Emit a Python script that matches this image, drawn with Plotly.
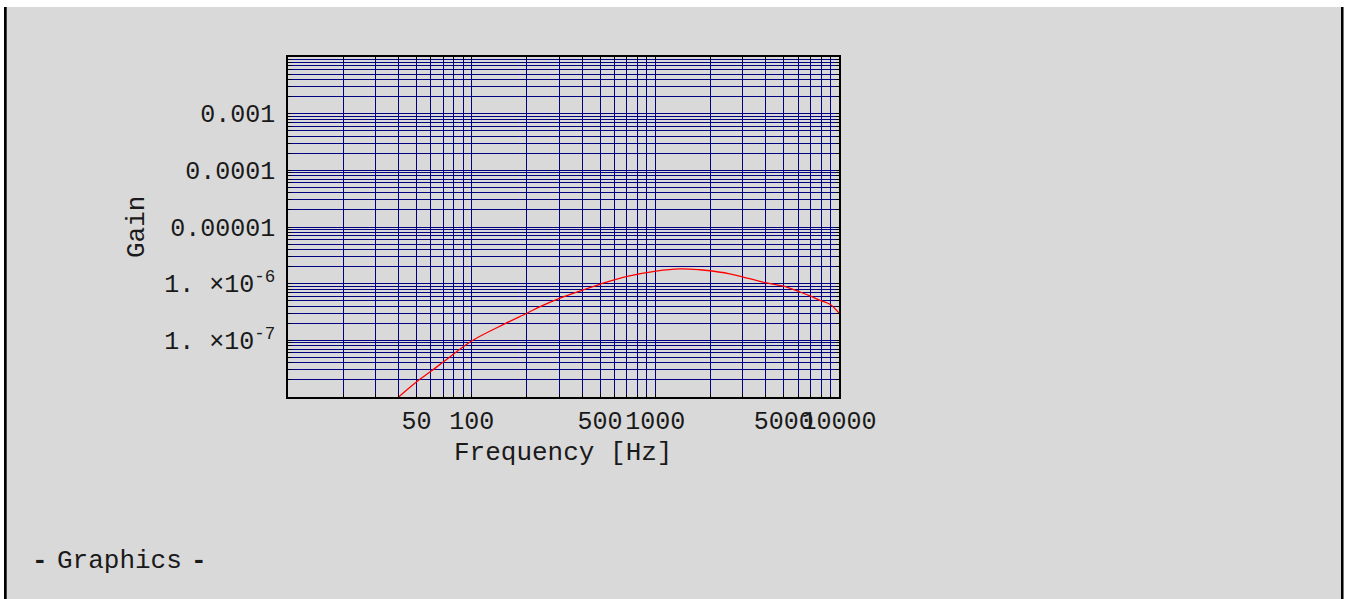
import plotly.graph_objects as go

# Frequency response samples (Hz -> gain)
freq_hz = [40, 50, 60, 76, 100, 152, 201, 236, 303, 402, 503, 703, 1009,
           1360, 1750, 1987, 2500, 3013, 4036, 5190, 6136, 6953, 7880, 8930, 10000]
gain = [1.0e-8, 1.84e-8, 2.84e-8, 5.08e-8, 9.75e-8, 1.97e-7, 3.04e-7, 3.94e-7,
        5.57e-7, 7.71e-7, 9.84e-7, 1.34e-6, 1.66e-6, 1.82e-6, 1.76e-6, 1.69e-6,
        1.51e-6, 1.31e-6, 1.03e-6, 8.73e-7, 7.13e-7, 6.07e-7, 5.08e-7, 4.33e-7, 3.03e-7]

# Labelled ticks
x_tick_vals = [50, 100, 500, 1000, 5000, 10000]
x_tick_text = ["50", "100", "500", "1000", "5000", "10000"]
y_tick_vals = [1e-3, 1e-4, 1e-5, 1e-6, 1e-7]
y_tick_text = ["0.001", "0.0001", "0.00001",
               "1. \u00d710<sup>-6</sup>", "1. \u00d710<sup>-7</sup>"]

x_title = "Frequency [Hz]"
y_title = "Gain"
caption_mark = "<b>-</b>"
caption = "Graphics"

# Page / frame geometry in pixels
W, H = 1349, 599
L, R, T, B = 288, 839, 57, 397

FONT = "Liberation Mono, Courier New, monospace"
TEXT = "#1a1a1a"
GRID = "#000080"
BG = "#d9d9d9"


def px(x):
    return (x - L) / (R - L)


def py(y):
    return (B - y) / (B - T)


def grid_values(lo_exp, hi_exp):
    vals = []
    for e in range(lo_exp, hi_exp):
        for k in range(1, 10):
            vals.append(k * 10.0 ** e)
    vals.append(10.0 ** hi_exp)
    return vals


def tick_arrays(lo_exp, hi_exp, labelled, labels):
    vals = grid_values(lo_exp, hi_exp)
    text = []
    for v in vals:
        lab = ""
        for lv, lt in zip(labelled, labels):
            if abs(v - lv) / lv < 1e-9:
                lab = lt
        text.append(lab)
    return vals, text


xv, xt = tick_arrays(1, 4, x_tick_vals, x_tick_text)
yv, yt = tick_arrays(-8, -2, y_tick_vals, y_tick_text)

fig = go.Figure()
fig.add_trace(go.Scatter(
    x=freq_hz, y=gain, mode="lines",
    line=dict(color="#ff0000", width=1.3, shape="spline", smoothing=1.0),
    hoverinfo="skip", showlegend=False,
))

axis_common = dict(
    showline=True, linecolor="black", linewidth=1.5, mirror="ticks",
    ticks="inside", ticklen=3, tickcolor="black", tickwidth=1,
    showgrid=True, gridcolor=GRID, gridwidth=1, zeroline=False,
    tickfont=dict(family=FONT, size=25, color=TEXT),
)

fig.update_xaxes(type="log", range=[1, 4], tickmode="array",
                 tickvals=xv, ticktext=xt, tickangle=0, **axis_common)
fig.update_yaxes(type="log", range=[-8, -2], tickmode="array",
                 tickvals=yv, ticktext=yt, ticklabelstandoff=6, **axis_common)


def label(text, x, y, anchor="center", angle=0, size=26):
    return dict(text=text, x=px(x), y=py(y), xref="paper", yref="paper",
                showarrow=False, xanchor=anchor, yanchor="middle",
                textangle=angle, font=dict(family=FONT, size=size, color=TEXT))


annotations = [
    label(x_title, 563, 453),
    label(y_title, 137, 227, angle=-90),
    label(caption_mark, 40, 561),
    label(caption, 55, 561, anchor="left"),
    label(caption_mark, 199, 561),
]

shapes = [
    # white strip on top and at the sides of the notebook cell
    dict(type="rect", xref="paper", yref="paper", x0=px(-5), x1=px(W + 5),
         y0=py(7), y1=py(-5), fillcolor="white", line_width=0, layer="above"),
    dict(type="rect", xref="paper", yref="paper", x0=px(-5), x1=px(4),
         y0=py(H + 5), y1=py(7), fillcolor="white", line_width=0, layer="above"),
    dict(type="rect", xref="paper", yref="paper", x0=px(1343.5), x1=px(W + 5),
         y0=py(H + 5), y1=py(7), fillcolor="white", line_width=0, layer="above"),
    # cell brackets
    dict(type="rect", xref="paper", yref="paper", x0=px(4), x1=px(6.7),
         y0=py(H + 5), y1=py(7), fillcolor="black", line_width=0, layer="above"),
    dict(type="rect", xref="paper", yref="paper", x0=px(1341), x1=px(1343.5),
         y0=py(H + 5), y1=py(7), fillcolor="black", line_width=0, layer="above"),
]

fig.update_layout(
    width=W, height=H,
    margin=dict(l=L, r=W - R, t=T, b=H - B, pad=0),
    paper_bgcolor=BG, plot_bgcolor=BG,
    annotations=annotations, shapes=shapes,
    showlegend=False,
)

fig.write_html("out.html", config={"displayModeBar": False})
